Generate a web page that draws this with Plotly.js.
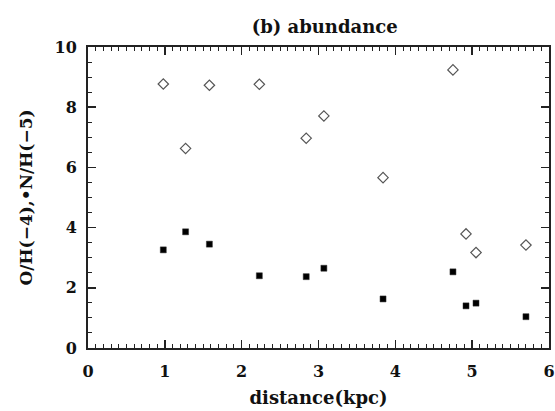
<!DOCTYPE html>
<html>
<head>
<meta charset="utf-8">
<script src="https://cdn.plot.ly/plotly-3.0.1.min.js"></script>
<style>html,body{margin:0;padding:0;background:#fff;}#chart{width:555px;height:411px;}</style>
</head>
<body>
<div id="chart"></div>
<script>
// distance (kpc), shared by both series
const distance = [0.98, 1.27, 1.58, 2.23, 2.84, 3.07, 3.84, 4.75, 4.92, 5.05, 5.70];
// O/H (×1e-4) — open diamonds
const oxygen = [8.77, 6.63, 8.73, 8.76, 6.97, 7.71, 5.66, 9.24, 3.79, 3.17, 3.42];
// N/H (×1e-5) — filled squares
const nitrogen = [3.26, 3.86, 3.45, 2.40, 2.37, 2.65, 1.63, 2.53, 1.40, 1.49, 1.04];

const xTicks = [0, 1, 2, 3, 4, 5, 6];
const yTicks = [0, 2, 4, 6, 8, 10];

const font = {family: '"DejaVu Serif", "Liberation Serif", serif', color: '#111'};

const traces = [
  {x: distance, y: oxygen, type: 'scatter', mode: 'markers', name: 'O/H',
   marker: {symbol: 'diamond-open', size: 8, color: '#555', line: {width: 1.2, color: '#555'}}},
  {x: distance, y: nitrogen, type: 'scatter', mode: 'markers', name: 'N/H',
   marker: {symbol: 'square', size: 6, color: '#000', line: {width: 0.5, color: '#333'}}}
];

const axisCommon = {
  showgrid: false, zeroline: false, showline: true, linewidth: 2, linecolor: '#222',
  mirror: 'ticks', ticks: 'inside', ticklen: 8, tickwidth: 1.5, tickcolor: '#222',
  tickfont: Object.assign({size: 16, weight: 'bold'}, font)
};

const layout = {
  width: 555, height: 411,
  margin: {l: 88, r: 6, t: 47, b: 63},
  paper_bgcolor: '#fff', plot_bgcolor: '#fff',
  showlegend: false,
  title: {text: '<b>(b) abundance</b>', x: 0.585, xanchor: 'center', y: 0.934, yanchor: 'middle',
          font: Object.assign({size: 18}, font)},
  xaxis: Object.assign({}, axisCommon, {
    range: [0, 6], tickmode: 'array', tickvals: xTicks, ticktext: xTicks.map(String),
    ticklabelstandoff: 8,
    minor: {dtick: 0.1, ticks: 'inside', ticklen: 4, tickwidth: 1, tickcolor: '#222'},
    title: {text: '<b>distance(kpc)</b>', standoff: 11, font: Object.assign({size: 18}, font)}
  }),
  yaxis: Object.assign({}, axisCommon, {
    range: [0, 10], tickmode: 'array', tickvals: yTicks, ticktext: yTicks.map(String),
    ticklabelstandoff: 6,
    minor: {dtick: 0.5, ticks: 'inside', ticklen: 4, tickwidth: 1, tickcolor: '#222'},
    title: {text: '<b>O/H(−4),•N/H(−5)</b>', standoff: 18, font: Object.assign({size: 17}, font)}
  })
};

Plotly.newPlot('chart', traces, layout, {displayModeBar: false, staticPlot: true});
</script>
</body>
</html>
